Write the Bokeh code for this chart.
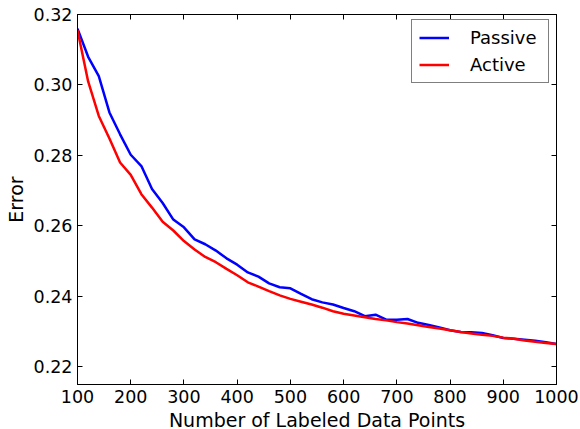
from bokeh.plotting import figure
from bokeh.models import (LinearAxis, FixedTicker, Range1d, Legend, LegendItem,
                          CustomJSTickFormatter, NumeralTickFormatter)
from bokeh.embed import file_html
from bokeh.resources import INLINE

n_labeled = [100, 120, 140, 160, 180, 200, 220, 240, 260, 280, 300, 320, 340, 360,
             380, 400, 420, 440, 460, 480, 500, 520, 540, 560, 580, 600, 620, 640,
             660, 680, 700, 720, 740, 760, 780, 800, 820, 840, 860, 880, 900, 920,
             940, 960, 980, 1000]

passive_error = [0.3160, 0.3080, 0.3025, 0.2922, 0.2860, 0.2802, 0.2770, 0.2705,
                 0.2665, 0.2618, 0.2596, 0.2562, 0.2548, 0.2530, 0.2508, 0.2490,
                 0.2468, 0.2456, 0.2437, 0.2426, 0.2423, 0.2407, 0.2392, 0.2383,
                 0.2377, 0.2367, 0.2358, 0.2344, 0.2348, 0.2334, 0.2334, 0.2336,
                 0.2325, 0.2319, 0.2312, 0.2304, 0.2299, 0.2298, 0.2296, 0.2290,
                 0.2282, 0.2280, 0.2277, 0.2274, 0.2270, 0.2265]

active_error = [0.3155, 0.3010, 0.2912, 0.2848, 0.2780, 0.2745, 0.2690, 0.2652,
                0.2612, 0.2587, 0.2557, 0.2533, 0.2512, 0.2497, 0.2478, 0.2460,
                0.2440, 0.2428, 0.2415, 0.2403, 0.2393, 0.2385, 0.2377, 0.2368,
                0.2358, 0.2351, 0.2346, 0.2341, 0.2336, 0.2332, 0.2327, 0.2323,
                0.2318, 0.2313, 0.2309, 0.2304, 0.2299, 0.2295, 0.2291, 0.2288,
                0.2283, 0.2280, 0.2275, 0.2271, 0.2268, 0.2265]

x_ticks = [100, 200, 300, 400, 500, 600, 700, 800, 900, 1000]
y_ticks = [0.22, 0.24, 0.26, 0.28, 0.30, 0.32]

FONT = "DejaVu Sans"

p = figure(frame_width=479, frame_height=370,
           x_range=Range1d(100, 1000), y_range=Range1d(0.215, 0.32),
           output_backend="svg", toolbar_location=None,
           min_border_left=77, min_border_right=24, min_border_top=14,
           min_border_bottom=37)

p.grid.visible = False
p.outline_line_color = "black"
p.outline_line_width = 1
p.background_fill_color = "white"
p.border_fill_color = "white"


def style_axis(ax, ticks, show_labels=True):
    ax.ticker = FixedTicker(ticks=ticks)
    ax.major_tick_in = 5
    ax.major_tick_out = 0
    ax.minor_tick_line_color = None
    ax.axis_line_color = "black"
    ax.major_tick_line_color = "black"
    ax.major_label_text_font = FONT
    ax.major_label_text_font_size = "17.5px"
    ax.major_label_text_color = "black"
    ax.axis_label_text_font = FONT
    ax.axis_label_text_font_size = "19px"
    ax.axis_label_text_font_style = "normal"
    ax.axis_label_text_color = "black"
    if not show_labels:
        ax.formatter = CustomJSTickFormatter(code="return ''")
        ax.major_label_standoff = 0
        ax.major_label_text_font_size = "1px"


xa = p.xaxis[0]
style_axis(xa, x_ticks)
xa.axis_label = "Number of Labeled Data Points"
xa.major_label_standoff = 5
xa.axis_label_standoff = 3

ya = p.yaxis[0]
style_axis(ya, y_ticks)
ya.formatter = NumeralTickFormatter(format="0.00")
ya.axis_label = "Error"
ya.major_label_standoff = 5
ya.axis_label_standoff = 4

top = LinearAxis()
style_axis(top, x_ticks, show_labels=False)
p.add_layout(top, "above")
right = LinearAxis()
style_axis(right, y_ticks, show_labels=False)
p.add_layout(right, "right")

r_passive = p.line(n_labeled, passive_error, line_color="blue", line_width=2.5)
r_active = p.line(n_labeled, active_error, line_color="red", line_width=2.5)

legend = Legend(items=[LegendItem(label="Passive", renderers=[r_passive]),
                       LegendItem(label="Active", renderers=[r_active])],
                location=(334, 301))
legend.label_text_font = FONT
legend.label_text_font_size = "18px"
legend.label_text_color = "black"
legend.border_line_color = "black"
legend.border_line_width = 1
legend.glyph_width = 30
legend.glyph_height = 17
legend.label_height = 17
legend.label_width = 71
legend.label_standoff = 21
legend.padding = 7
legend.spacing = 6
legend.margin = 0
legend.background_fill_alpha = 1
p.add_layout(legend, "center")

open("out.html", "w").write(file_html(p, INLINE))
